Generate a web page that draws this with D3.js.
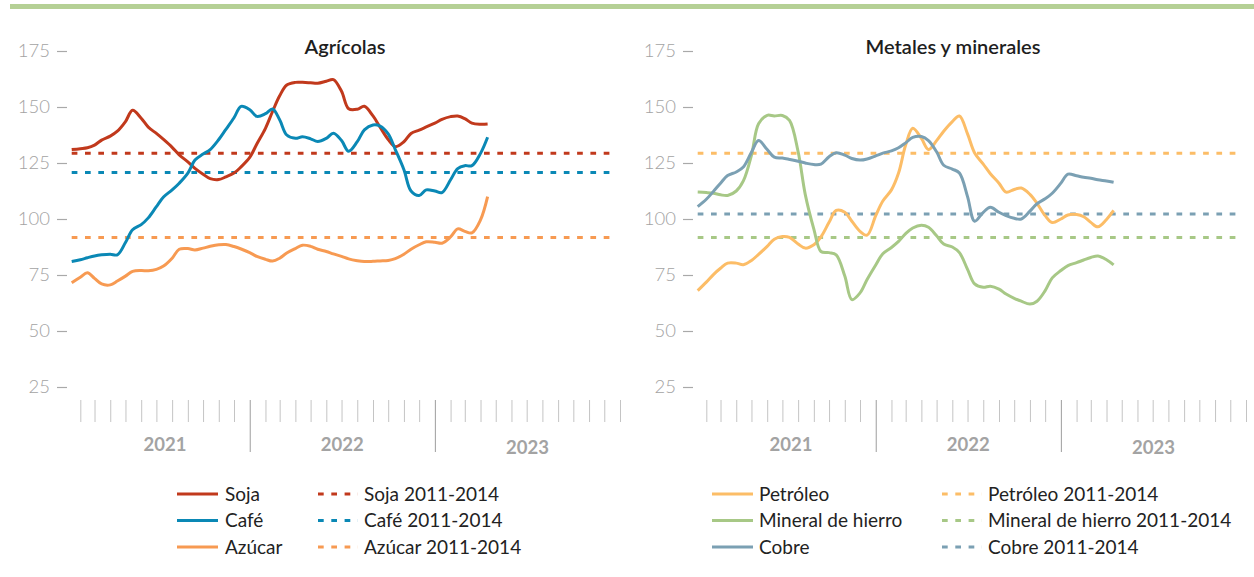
<!DOCTYPE html>
<html><head><meta charset="utf-8">
<script src="https://cdn.jsdelivr.net/npm/d3@7"></script>
<style>
html,body{margin:0;padding:0;background:#fff;}
svg{display:block;font-family:Lato,"Noto Sans",sans-serif;}
</style></head>
<body><svg id="c" width="1254" height="577"></svg>
<script>
// ---------- data ----------
// semi-monthly observation dates: 15 Jan 2021, 1 Feb 2021, 15 Feb 2021 ... 15 Apr 2023
const dates = d3.range(55).map(k => k % 2 === 0 ? new Date(2021, k / 2, 15) : new Date(2021, (k + 1) / 2, 1));

const soja = [131,131.4,131.8,133,135.2,137,139.2,143.5,148.5,145,141,138.2,135.5,132,128.6,125.5,122.6,120,118,117.6,118.8,120.5,123.3,127.5,133.5,140.5,148,155,159.8,161,161,160.8,160.6,161.5,162.2,157,149.2,149,150.3,146,141,135.5,132.3,134.5,138.2,139.7,141.1,142.8,144.5,145.7,146,144.8,142.8,142.3,142.4];
const cafe = [81,81.8,82.7,83.5,84,84.3,84,89.5,95.2,97.5,100.5,105.5,109.8,113,116,120.5,126.3,129,131,135.5,140,145.2,150.3,148.8,145.8,147,149.1,144.3,137.5,136,136.7,135.8,134.6,136,138.3,135,130.2,134.5,139.8,142,141.5,138,131,122,112.5,110.5,113,112.5,111.8,117.5,122.5,123.8,123.8,129.3,136.5];
const azucar = [71.5,74,76,73.5,71,70.6,72.3,74.5,76.6,77,76.9,77.5,79,82.5,86.5,86.8,86.2,87,87.8,88.5,88.6,87.7,86.6,85,83.3,82,81.2,82.5,84.8,86.8,88.3,87.8,86.5,85.5,84.4,83.3,82.2,81.4,81,81.1,81.3,81.5,82.3,84.3,86.5,88.5,89.8,89.6,89.2,92,95.6,94.5,93.8,99.6,110];

const petroleo = [68,71.8,75.2,78,80.3,80.3,79.6,81.5,84.2,87.8,91,92.2,91.8,88.8,87,88.5,92,98.5,103.8,103,99,94.5,92.8,101.5,108,113,120.5,133,140.5,136,131,135,139.2,143.5,146,138,129.5,124.5,120.2,116,112,113.2,113.8,111,107,101.5,98.4,100,101.8,102,101,98.5,96.5,99.8,103.8];
const mineral = [112,111.8,111.5,110.8,110.5,112.5,117,128.5,142.5,146.3,146,146.2,144,130,111,95.5,85.5,85,84,74.5,64,67,73,79.5,84.5,87.3,90,93.5,96,97.2,96.3,92.5,88.8,87.5,85,77.5,71,69.5,70,68.7,66.5,64.6,63.3,62,63.3,68,73.7,77,79.2,80.5,81.7,82.8,83.5,81.8,79.5];
const cobre = [105.5,108.8,112.3,116,119.4,121,123.2,129.8,135,131,127.6,127.2,126.6,125.8,125,124.3,124.5,127.8,129.6,128.5,127,126.3,126.8,128.2,129.4,130.4,131.8,134,136.4,136.8,135,130,124,122.3,120.5,110,99,103,105.2,103,101.5,100.3,100,103.5,106.8,109,111.5,116,120,119.3,118.6,118.2,117.5,117,116.4];

// 2011-2014 averages
const refAgri = [129.3, 120.8, 91.7];     // Soja, Café, Azúcar
const refMetal = [129.3, 91.7, 102.2];    // Petróleo, Mineral de hierro, Cobre
const refRange = [new Date(2021, 0, 15), new Date(2023, 11, 15)];

const yTicks = [25, 50, 75, 100, 125, 150, 175];
const years = [2021, 2022, 2023];
const titles = ["Agrícolas", "Metales y minerales"];
const agriNames = ["Soja", "Café", "Azúcar"];
const metalNames = ["Petróleo", "Mineral de hierro", "Cobre"];
const refSuffix = " 2011-2014";

const agriColors = ["#c1391c", "#0a88b5", "#f79a52"];
const metalColors = ["#fcbd67", "#a7c886", "#7ba0b3"];

// ---------- drawing ----------
const svg = d3.select("#c");
svg.append("rect").attr("x", 10).attr("y", 4).attr("width", 1244).attr("height", 5).attr("fill", "#b5d095");

const y = d3.scaleLinear().domain([25, 175]).range([387, 51]);
const tickMonths = d3.timeMonth.range(new Date(2021, 1, 1), new Date(2024, 1, 1));

function panel(offset, title, titleX, names, series, refs, colors, legendX) {
  const x = d3.scaleTime().domain([new Date(2021, 0, 1), new Date(2024, 0, 1)]).range([64.6 + offset, 620 + offset]);
  const g = svg.append("g");

  // y axis
  const ya = g.append("g").attr("transform", `translate(${67 + offset},0)`)
    .call(d3.axisLeft(y).tickValues(yTicks).tickSize(10).tickPadding(7));
  ya.select(".domain").remove();
  ya.selectAll("line").attr("stroke", "#a9a9a9").attr("stroke-width", 1.2);
  ya.selectAll("text").attr("fill", "#a3a3a3").attr("font-size", 18.5).attr("font-weight", 300)
    .attr("font-family", "Lato, sans-serif");

  // x axis
  const xa = g.append("g").attr("transform", "translate(0,400)")
    .call(d3.axisBottom(x).tickValues(tickMonths).tickSize(22).tickFormat(""));
  xa.select(".domain").remove();
  xa.selectAll(".tick line")
    .attr("stroke", d => (d.getMonth() === 0 && d.getFullYear() < 2024) ? "#9d9d9d" : "#c4c4c4")
    .attr("y2", d => (d.getMonth() === 0 && d.getFullYear() < 2024) ? 52 : 22);

  years.forEach(yr => {
    const a = Math.max(x(new Date(yr, 0, 1)), x(tickMonths[0]));
    const b = x(new Date(yr + 1, 0, 1));
    g.append("text").attr("x", (a + b) / 2).attr("y", yr === 2023 ? 454 : 451)
      .attr("text-anchor", "middle").attr("font-size", 18.5).attr("font-weight", 700)
      .attr("fill", "#a3a3a3").text(yr);
  });

  // title
  g.append("text").attr("x", titleX).attr("y", 54).attr("text-anchor", "middle")
    .attr("font-size", 20).attr("font-weight", 600).attr("fill", "#1e1e1e").text(title);

  // reference lines
  refs.forEach((v, i) => {
    g.append("line").attr("x1", x(refRange[0])).attr("x2", x(refRange[1]))
      .attr("y1", y(v)).attr("y2", y(v))
      .attr("stroke", colors[i]).attr("stroke-width", 3).attr("stroke-dasharray", "5.7,7.6");
  });

  // series lines
  const line = d3.line().x((d, i) => x(dates[i])).y(d => y(d)).curve(d3.curveCatmullRom.alpha(0.5));
  series.forEach((s, i) => {
    g.append("path").datum(s).attr("d", line).attr("fill", "none")
      .attr("stroke", colors[i]).attr("stroke-width", 3).attr("stroke-linejoin", "round");
  });

  // legend
  const rows = [494, 520.5, 547];
  names.forEach((n, i) => {
    const ry = rows[i];
    g.append("line").attr("x1", legendX[0]).attr("x2", legendX[0] + 41).attr("y1", ry).attr("y2", ry)
      .attr("stroke", colors[i]).attr("stroke-width", 3);
    g.append("text").attr("x", legendX[1]).attr("y", ry).attr("dy", "0.35em")
      .attr("font-size", 19).attr("fill", "#222").text(n);
    g.append("line").attr("x1", legendX[2]).attr("x2", legendX[2] + 40).attr("y1", ry).attr("y2", ry)
      .attr("stroke", colors[i]).attr("stroke-width", 3).attr("stroke-dasharray", "5.7,7.6");
    g.append("text").attr("x", legendX[3]).attr("y", ry).attr("dy", "0.35em")
      .attr("font-size", 19).attr("fill", "#222").text(n + refSuffix);
  });
}

panel(0, titles[0], 345, agriNames, [soja, cafe, azucar], refAgri, agriColors, [177, 225, 318, 364]);
panel(626, titles[1], 953, metalNames, [petroleo, mineral, cobre], refMetal, metalColors, [712, 759, 942, 988]);
</script></body></html>
